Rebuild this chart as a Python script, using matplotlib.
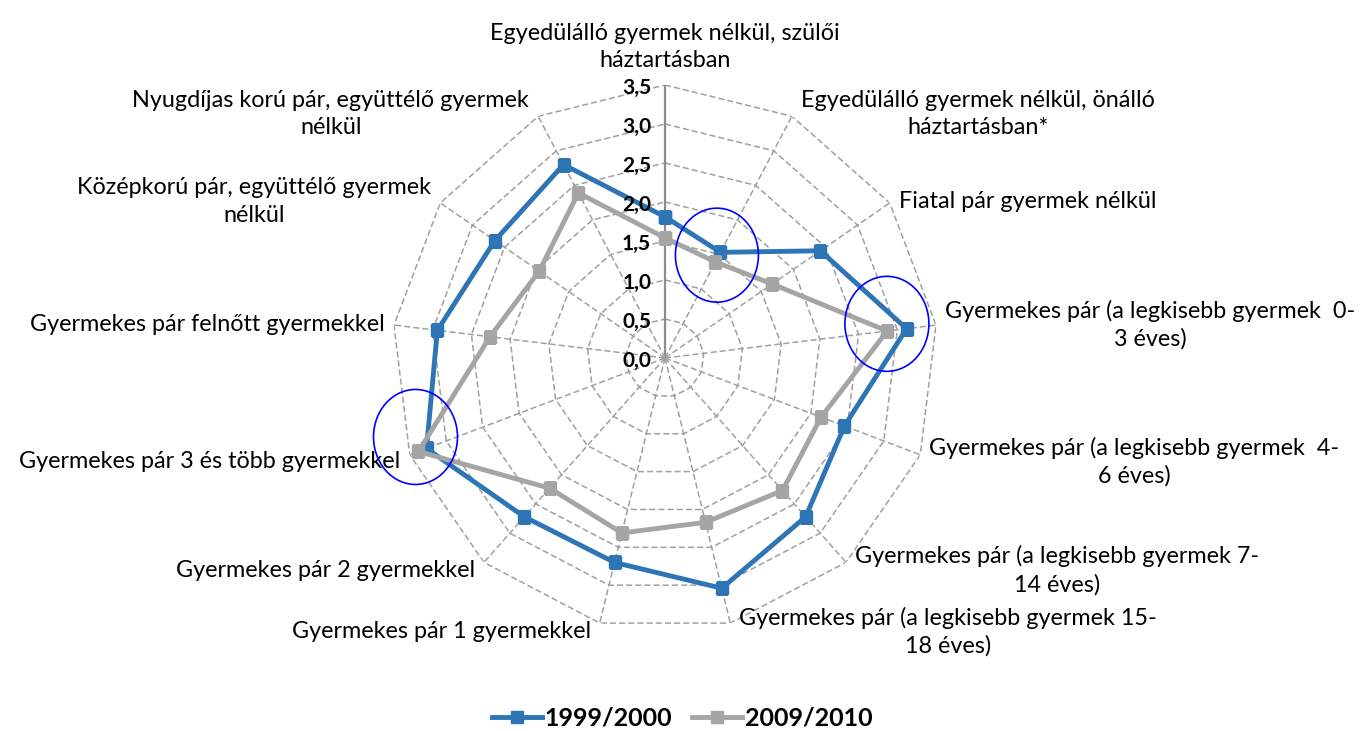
import numpy as np
import matplotlib
matplotlib.use("Agg")
import matplotlib.pyplot as plt
from matplotlib.patches import Ellipse
from matplotlib.transforms import IdentityTransform
from matplotlib.lines import Line2D

categories = [
    "Egyedülálló gyermek nélkül, szülői\nháztartásban",
    "Egyedülálló gyermek nélkül, önálló\nháztartásban*",
    "Fiatal pár gyermek nélkül",
    "Gyermekes pár (a legkisebb gyermek  0-\n3 éves)",
    "Gyermekes pár (a legkisebb gyermek  4-\n6 éves)",
    "Gyermekes pár (a legkisebb gyermek 7-\n14 éves)",
    "Gyermekes pár (a legkisebb gyermek 15-\n18 éves)",
    "Gyermekes pár 1 gyermekkel",
    "Gyermekes pár 2 gyermekkel",
    "Gyermekes pár 3 és több gyermekkel",
    "Gyermekes pár felnőtt gyermekkel",
    "Középkorú pár, együttélő gyermek\nnélkül",
    "Nyugdíjas korú pár, együttélő gyermek\nnélkül",
]
series_1999 = [1.81, 1.53, 2.42, 3.12, 2.46, 2.72, 3.04, 2.70, 2.72, 3.27, 2.94, 2.65, 2.80]
series_2009 = [1.54, 1.39, 1.67, 2.87, 2.14, 2.27, 2.17, 2.31, 2.23, 3.38, 2.26, 1.96, 2.39]
series_names = ["1999/2000", "2009/2010"]
tick_values = [0.0, 0.5, 1.0, 1.5, 2.0, 2.5, 3.0, 3.5]
tick_labels = ["0,0", "0,5", "1,0", "1,5", "2,0", "2,5", "3,0", "3,5"]
highlighted = [1, 3, 9]

BLUE = "#2E75B6"
GRAY = "#A5A5A5"
GRID = "#A0A0A0"
FONT = "Lato"

W, H = 1364, 731
fig = plt.figure(figsize=(W / 100, H / 100), dpi=100)
cx, cy, R = 665, 358, 273
ax = fig.add_axes([(cx - R) / W, (H - cy - R) / H, 2 * R / W, 2 * R / H], projection="polar")
ax.set_theta_offset(np.pi / 2)
ax.set_theta_direction(-1)
rmax = tick_values[-1]
ax.set_ylim(0, rmax)
ax.grid(False)
ax.set_xticks([])
ax.set_yticks([])
ax.spines["polar"].set_visible(False)
ax.patch.set_alpha(0)

n = len(categories)
angles = np.arange(n) * 2 * np.pi / n
closed = np.append(angles, angles[0])

# polygon grid
for v in tick_values[1:]:
    ax.plot(closed, [v] * (n + 1), color=GRID, lw=1.1, ls=(0, (4, 2)), zorder=1)
# spokes
for i, a in enumerate(angles):
    if i == 0:
        ax.plot([a, a], [0, rmax], color="#8C8C8C", lw=1.6, zorder=1)
    else:
        ax.plot([a, a], [0, rmax], color=GRID, lw=1.1, ls=(0, (4, 2)), zorder=1)

# tick labels
for v, t in zip(tick_values, tick_labels):
    ax.annotate(t, xy=(0, v), xytext=(-10, -2), textcoords="offset points",
                ha="right", va="center", fontsize=15, fontweight="bold",
                family=FONT, color="black", zorder=5)

# series
for vals, col, name in [(series_1999, BLUE, series_names[0]), (series_2009, GRAY, series_names[1])]:
    v = np.append(vals, vals[0])
    ax.plot(closed, v, color=col, lw=3.5, marker="s", markersize=9,
            markeredgecolor=col, zorder=3, label=name)

# category labels
gap = 9
for i, (a, lab) in enumerate(zip(angles, categories)):
    s, c = np.sin(a), np.cos(a)
    if abs(s) < 0.05:
        ha, va = "center", "bottom"
        off = (0, 14)
    else:
        ha = "left" if s > 0 else "right"
        va = "center"
        off = (gap * np.sign(s), gap * 0.3 * c - (6 if c < 0 else 0))
    ax.annotate(lab, xy=(a, rmax), xytext=off, textcoords="offset pixels",
                ha=ha, va=va, multialignment="center", fontsize=16.8,
                family=FONT, linespacing=1.38, color="black", zorder=5)

# highlight ellipses (shift in pixels: right, up)
fig.canvas.draw()
ell_size = {1: (83, 94), 3: (84, 95), 9: (84, 95)}
ell_shift = {1: (-1, 2), 3: (-10, 6), 9: (-7, 13)}
for i in highlighted:
    p1 = ax.transData.transform((angles[i], series_1999[i]))
    p2 = ax.transData.transform((angles[i], series_2009[i]))
    mx, my = (p1 + p2) / 2
    dx, dy = ell_shift[i]
    w, h = ell_size[i]
    fig.add_artist(Ellipse((mx + dx, my + dy), w, h, transform=IdentityTransform(),
                           fill=False, edgecolor="#0000FF", lw=1.2, zorder=6))

handles = [Line2D([], [], color=BLUE, lw=3.5, marker="s", markersize=9),
           Line2D([], [], color=GRAY, lw=3.5, marker="s", markersize=9)]
fig.legend(handles, series_names, loc="center", bbox_to_anchor=(0.5, 1 - 718 / H),
           ncol=2, frameon=False, prop={"family": FONT, "weight": "bold", "size": 18},
           handlelength=2.0, handletextpad=0.1, columnspacing=0.8)

fig.savefig("out.png", dpi=100, facecolor="white")
